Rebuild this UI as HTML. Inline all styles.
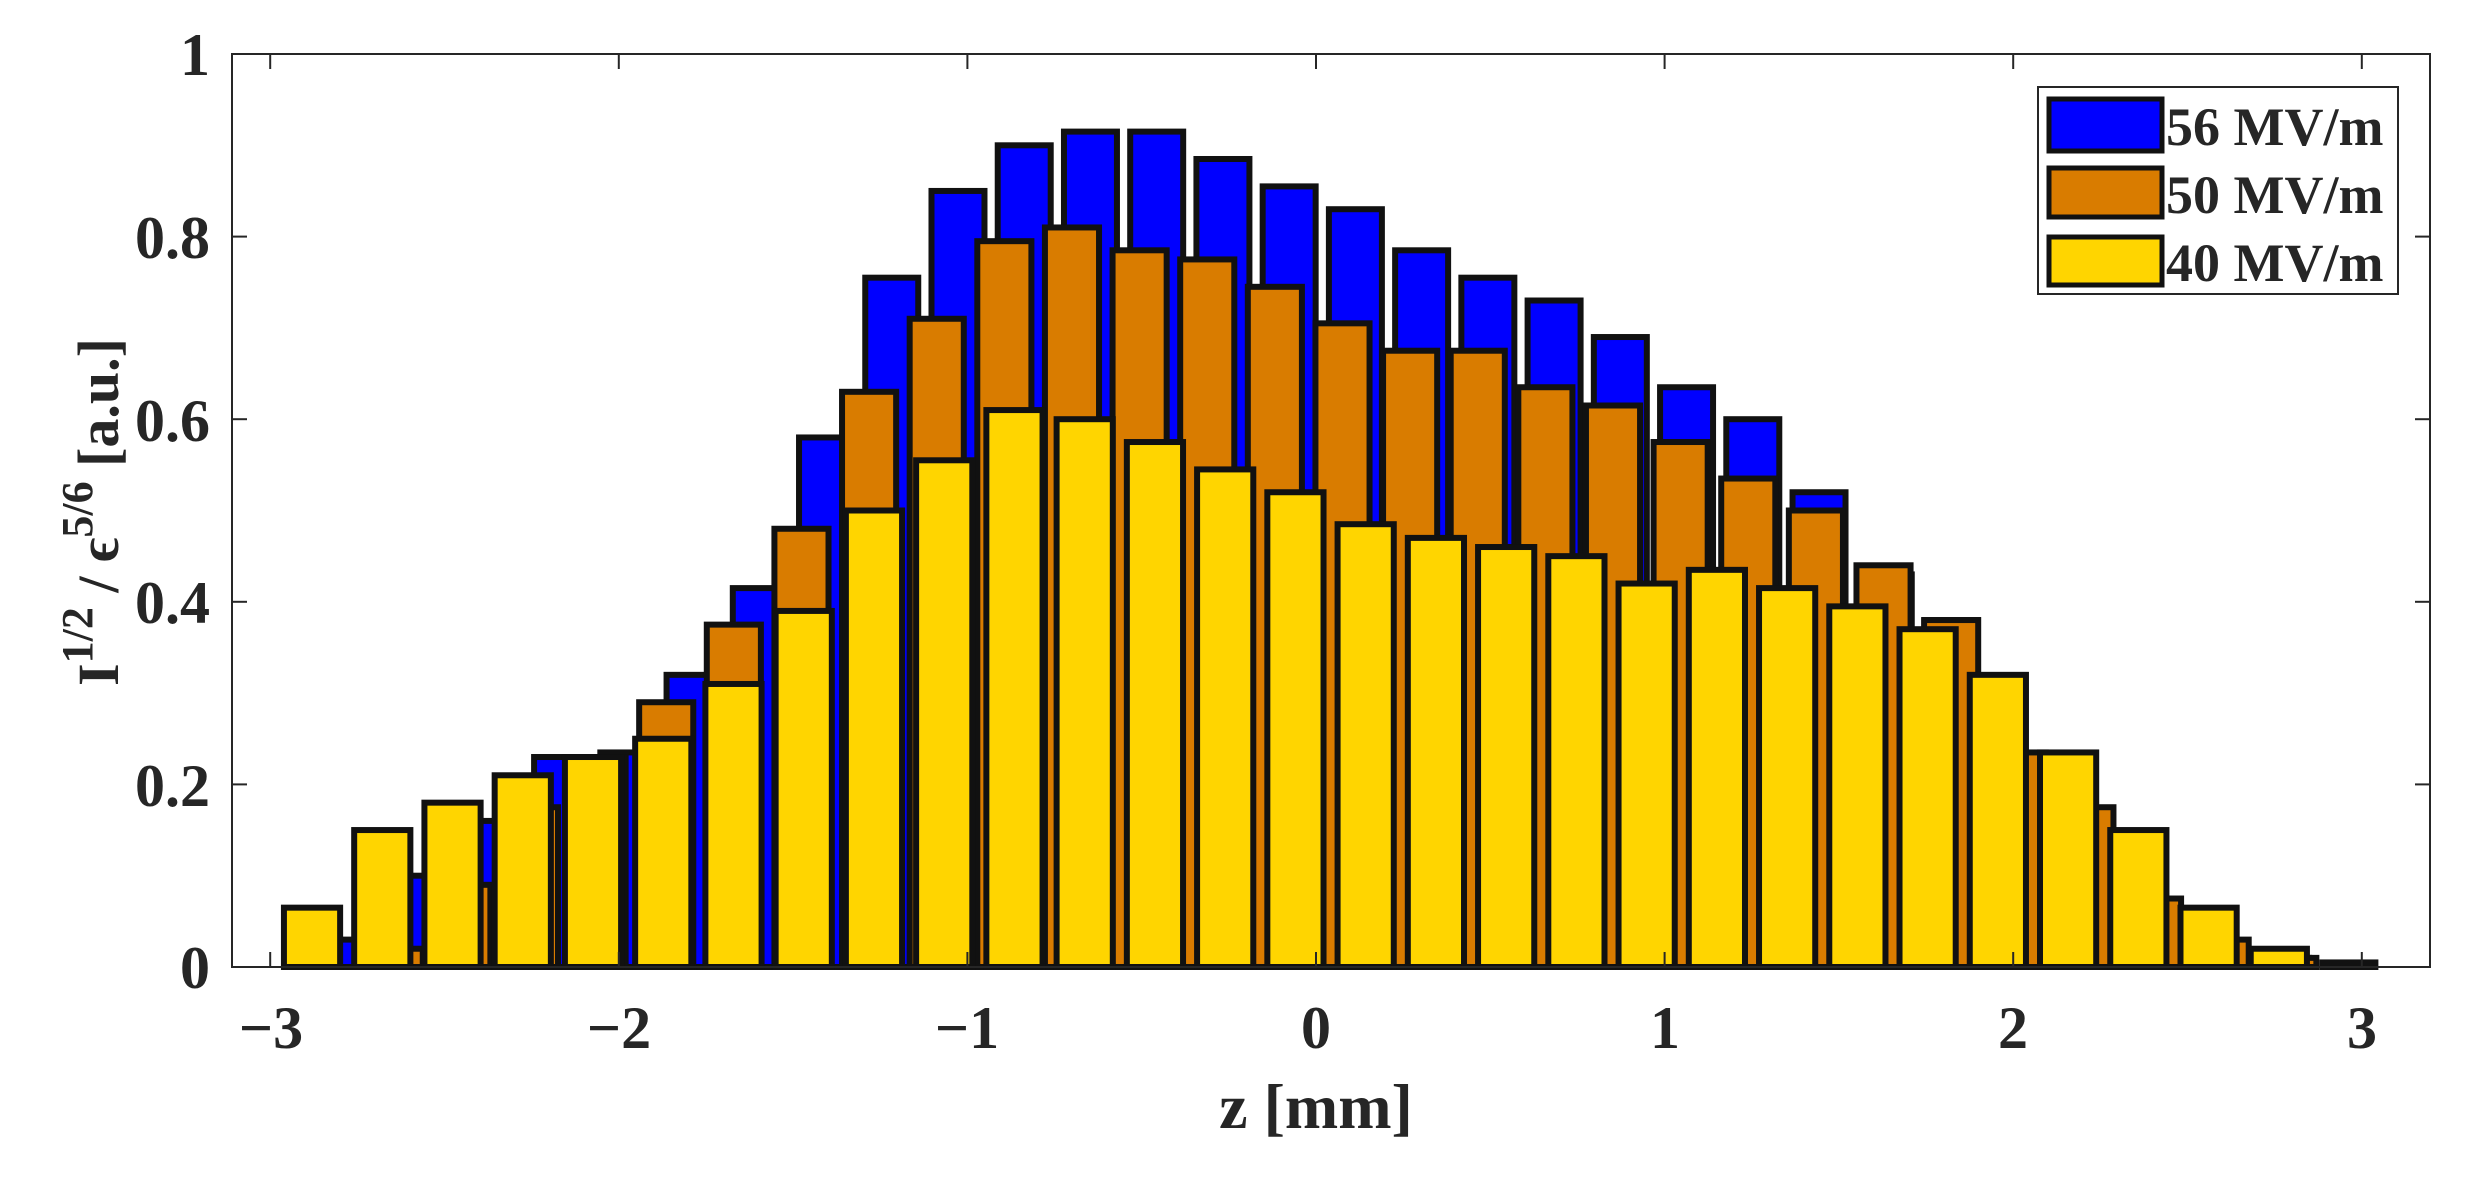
<!DOCTYPE html>
<html><head><meta charset="utf-8"><style>
html,body{margin:0;padding:0;background:#fff;}
svg{display:block;}
text{font-family:"Liberation Serif",serif;font-weight:bold;fill:#262626;}
</style></head><body>
<svg id="s" width="2475" height="1182" viewBox="0 0 2475 1182" xmlns="http://www.w3.org/2000/svg">
<rect width="2475" height="1182" fill="#fff"/>
<g id="bars"></g>
<rect x="232" y="54" width="2198" height="913" fill="none" stroke="#262626" stroke-width="2"/>
<g id="ticks" stroke="#262626" stroke-width="2"></g>
<g font-size="60" text-anchor="end">
<text x="210" y="988">0</text>
<text x="210" y="806">0.2</text>
<text x="210" y="623">0.4</text>
<text x="210" y="441">0.6</text>
<text x="210" y="258">0.8</text>
<text x="210" y="75">1</text>
</g>
<g font-size="60" text-anchor="middle">
<text x="271" y="1048">−3</text>
<text x="619" y="1048">−2</text>
<text x="967" y="1048">−1</text>
<text x="1316" y="1048">0</text>
<text x="1665" y="1048">1</text>
<text x="2013" y="1048">2</text>
<text x="2362" y="1048">3</text>
<text x="1316" y="1128" font-size="64">z [mm]</text>
</g>
<text transform="translate(118,512) rotate(-90)" font-size="58" text-anchor="middle">I<tspan font-size="44" dy="-26">1/2</tspan><tspan dy="26"> / ϵ</tspan><tspan font-size="44" dy="-26">5/6</tspan><tspan dy="26"> [a.u.]</tspan></text>
<g>
<rect x="2038" y="87" width="360" height="207" fill="#fff" stroke="#262626" stroke-width="2"/>
<rect x="2049" y="99" width="113" height="52" fill="#0000ff" stroke="#111" stroke-width="5"/>
<rect x="2049" y="168" width="113" height="49" fill="#d97c00" stroke="#111" stroke-width="5"/>
<rect x="2049" y="237" width="113" height="48" fill="#ffd500" stroke="#111" stroke-width="5"/>
<text x="2166" y="145" font-size="54">56 MV/m</text>
<text x="2166" y="213" font-size="54">50 MV/m</text>
<text x="2166" y="281" font-size="54">40 MV/m</text>
</g>
</svg>
<script>
var NS="http://www.w3.org/2000/svg";
function X(z){return 1316+348.6*z;}
function Y(v){return 967-913*v;}
var g=document.getElementById('bars');
function series(start,step,h,color){
  var w=0.8*step*348.6;
  for(var i=0;i<h.length;i++){
    var z=start+i*step, v=h[i];
    var r=document.createElementNS(NS,'rect');
    r.setAttribute('x',X(z)-w/2);r.setAttribute('y',Y(v));
    r.setAttribute('width',w);r.setAttribute('height',Math.max(967-Y(v),1));
    r.setAttribute('fill',color);r.setAttribute('stroke','#111');r.setAttribute('stroke-width','6');
    g.appendChild(r);
  }
}
var bl=[0.03,0.1,0.16,0.23,0.235,0.32,0.415,0.58,0.755,0.85,0.90,0.915,0.915,0.885,0.855,0.83,0.785,0.755,0.73,0.69,0.635,0.60,0.52,0.43,0.38,0.23,0.17,0.07,0.025,0.01,0.005];
series(-0.647-11*0.19,0.19,bl,'#0000ff');
var or=[0.02,0.09,0.175,0.23,0.29,0.375,0.48,0.63,0.71,0.795,0.81,0.785,0.775,0.745,0.705,0.675,0.675,0.635,0.615,0.575,0.535,0.50,0.44,0.38,0.235,0.175,0.075,0.03,0.01];
series(-2.64,0.194,or,'#d97c00');
var ye=[0.065,0.15,0.18,0.21,0.23,0.25,0.31,0.39,0.50,0.555,0.61,0.60,0.575,0.545,0.52,0.485,0.47,0.46,0.45,0.42,0.435,0.415,0.395,0.37,0.32,0.235,0.15,0.065,0.02];
series(-2.88,0.2015,ye,'#ffd500');
var t=document.getElementById('ticks');
function ln(a,b,c,d){var l=document.createElementNS(NS,'line');l.setAttribute('x1',a);l.setAttribute('y1',b);l.setAttribute('x2',c);l.setAttribute('y2',d);t.appendChild(l);}
for(var z=-3;z<=3;z++){ln(X(z),967,X(z),952);ln(X(z),54,X(z),69);}
for(var k=0;k<=5;k++){var y=Y(k*0.2);ln(232,y,247,y);ln(2430,y,2415,y);}
</script>
</body></html>
